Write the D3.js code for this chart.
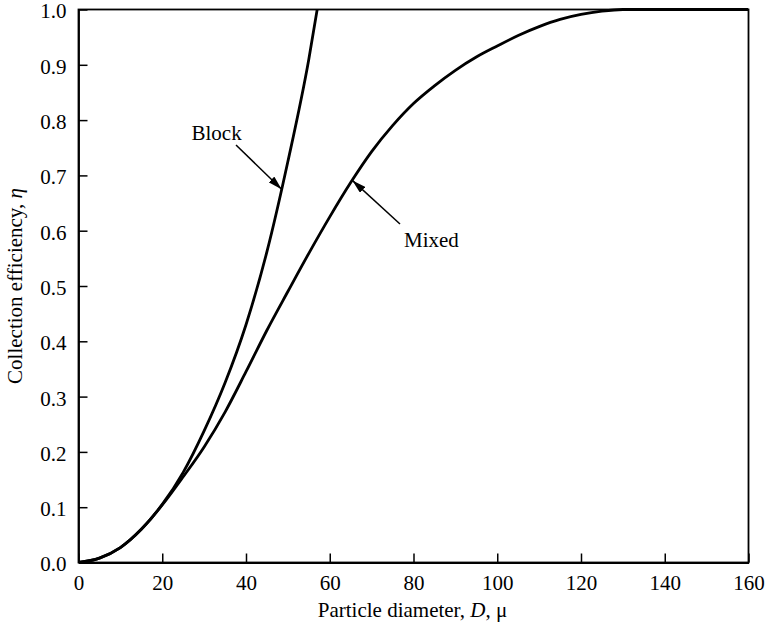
<!DOCTYPE html>
<html>
<head>
<meta charset="utf-8">
<script src="https://cdn.jsdelivr.net/npm/d3@7"></script>
<style>
  html, body { margin: 0; padding: 0; background: #fff; }
  svg { display: block; }
  text { font-family: "Liberation Serif", "Times New Roman", serif; fill: #000; }
</style>
</head>
<body>
<svg id="chart" width="768" height="624"></svg>
<script>
// ---- data ----
const xTicks = [0, 20, 40, 60, 80, 100, 120, 140, 160];
const yTicks = [0.0, 0.1, 0.2, 0.3, 0.4, 0.5, 0.6, 0.7, 0.8, 0.9, 1.0];

const blockD   = [0, 5, 10, 15, 20, 25, 30, 35, 40, 45, 50, 55, 57];
const blockEta = [0, 0.008, 0.027, 0.06, 0.105, 0.163, 0.238, 0.325, 0.43, 0.562, 0.725, 0.91, 1.0];

const mixedD   = [0, 5, 10, 15, 20, 25, 30, 35, 40, 45, 50, 55, 60, 65, 70, 75, 80, 85, 90, 95, 100, 105, 110, 115, 120, 125, 130, 160];
const mixedEta = [0, 0.008, 0.027, 0.06, 0.104, 0.155, 0.209, 0.272, 0.345, 0.42, 0.49, 0.559, 0.625, 0.687, 0.743, 0.79, 0.83, 0.862, 0.89, 0.914, 0.934, 0.953, 0.969, 0.982, 0.991, 0.997, 1.0, 1.0];

const xLabel = "Particle diameter, ";
const yLabel = "Collection efficiency, ";

// ---- layout ----
const svg = d3.select("#chart");
const mLeft = 78.5, mRight = 748.5, mTop = 9.5, mBottom = 562.5;
const x = d3.scaleLinear().domain([0, 160]).range([mLeft, mRight]);
const y = d3.scaleLinear().domain([0, 1]).range([mBottom, mTop]);
const fontSize = 21;

// frame
svg.append("rect")
  .attr("x", mLeft).attr("y", mTop)
  .attr("width", mRight - mLeft).attr("height", mBottom - mTop)
  .attr("fill", "none").attr("stroke", "#000").attr("stroke-width", 1.8);

// x axis
const xAxis = svg.append("g").attr("transform", `translate(0,${mBottom})`)
  .call(d3.axisBottom(x).tickValues(xTicks).tickSizeInner(-9).tickSizeOuter(0).tickPadding(13).tickFormat(d3.format("d")));
xAxis.select(".domain").attr("stroke-width", 1.8);
xAxis.selectAll(".tick line").attr("stroke-width", 1.5);
xAxis.selectAll(".tick text").attr("font-size", fontSize).attr("font-family", null);

// y axis
const yAxis = svg.append("g").attr("transform", `translate(${mLeft},0)`)
  .call(d3.axisLeft(y).tickValues(yTicks).tickSizeInner(-9).tickSizeOuter(0).tickPadding(12).tickFormat(d3.format(".1f")));
yAxis.select(".domain").attr("stroke-width", 1.8);
yAxis.selectAll(".tick line").attr("stroke-width", 1.5);
yAxis.selectAll(".tick text").attr("font-size", fontSize).attr("font-family", null).attr("dy", "0.4em");

// clip to plot
svg.append("clipPath").attr("id", "clip").append("rect")
  .attr("x", mLeft).attr("y", mTop - 2).attr("width", mRight - mLeft).attr("height", mBottom - mTop + 2);

const line = d3.line().x(d => x(d[0])).y(d => y(d[1])).curve(d3.curveMonotoneX);

const plot = svg.append("g").attr("clip-path", "url(#clip)");
plot.append("path")
  .datum(blockD.map((d, i) => [d, blockEta[i]]))
  .attr("d", line).attr("fill", "none").attr("stroke", "#000").attr("stroke-width", 2.8);
plot.append("path")
  .datum(mixedD.map((d, i) => [d, mixedEta[i]]))
  .attr("d", line).attr("fill", "none").attr("stroke", "#000").attr("stroke-width", 2.8);

// arrow marker
svg.append("defs").append("marker")
  .attr("id", "arr").attr("viewBox", "0 0 14 8").attr("refX", 14).attr("refY", 4)
  .attr("markerWidth", 14).attr("markerHeight", 8).attr("markerUnits", "userSpaceOnUse")
  .attr("orient", "auto")
  .append("path").attr("d", "M0,0 L14,4 L0,8 Z").attr("fill", "#000");

// annotations: Block
svg.append("text").attr("x", 191.5).attr("y", 139.5).attr("font-size", fontSize).text("Block");
svg.append("line").attr("x1", 236).attr("y1", 145).attr("x2", x(48.5)).attr("y2", y(0.675))
  .attr("stroke", "#000").attr("stroke-width", 1.5).attr("marker-end", "url(#arr)");

// Mixed
svg.append("text").attr("x", 404).attr("y", 247).attr("font-size", fontSize).text("Mixed");
svg.append("line").attr("x1", 400).attr("y1", 224).attr("x2", x(65.4)).attr("y2", y(0.691))
  .attr("stroke", "#000").attr("stroke-width", 1.5).attr("marker-end", "url(#arr)");

// x title
const xt = svg.append("text").attr("x", (mLeft + mRight) / 2 - 1).attr("y", 617)
  .attr("text-anchor", "middle").attr("font-size", fontSize);
xt.append("tspan").text(xLabel);
xt.append("tspan").attr("font-style", "italic").text("D");
xt.append("tspan").text(", μ");

// y title
const yt = svg.append("text")
  .attr("transform", `translate(22,${(mTop + mBottom) / 2}) rotate(-90)`)
  .attr("text-anchor", "middle").attr("font-size", fontSize);
yt.append("tspan").text(yLabel);
yt.append("tspan").attr("font-style", "italic").text("η");
</script>
</body>
</html>
